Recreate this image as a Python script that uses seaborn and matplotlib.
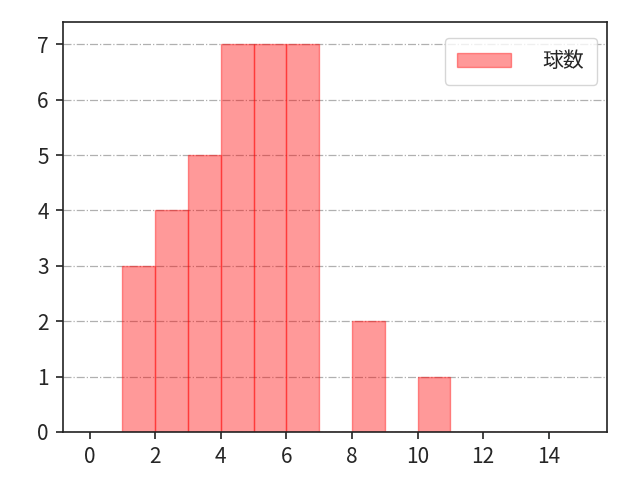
import matplotlib
matplotlib.use("Agg")
import matplotlib.pyplot as plt
import seaborn as sns
import numpy as np
import pandas as pd

# pitch-count bins (left edge) and how many times each occurred
pitch_values = [1, 2, 3, 4, 5, 6, 8, 10]
pitch_counts = [3, 4, 5, 7, 7, 7, 2, 1]
bin_edges = list(range(0, 16))
x_ticks = [0, 2, 4, 6, 8, 10, 12, 14]

sns.set_style("white")
plt.rcParams['font.family'] = ['Noto Sans CJK JP', 'DejaVu Sans']

df = pd.DataFrame({"球数": np.repeat(pitch_values, pitch_counts)})

fig, ax = plt.subplots(figsize=(6.4, 4.8), dpi=100)
sns.histplot(data=df, x="球数", bins=bin_edges, color="red", alpha=0.4,
             edgecolor=(1, 0, 0, 0.4), linewidth=1, label="球数", ax=ax)
ax.set_xticks(x_ticks)
ax.set_xlim(-0.82, 15.77)
ax.set_ylim(0, 7.4)
ax.set_xlabel("")
ax.set_ylabel("")
ax.grid(axis="y", linestyle="-.", color="#b0b0b0", linewidth=0.9)
ax.set_axisbelow(True)
for s in ax.spines.values():
    s.set_color("#222222")
    s.set_linewidth(1.2)
    s.set_zorder(5)
ax.tick_params(axis="both", labelsize=15, length=5, width=1.2, pad=5,
               direction="out", left=True, bottom=True, color="#222222")
ax.legend(loc="upper right", bbox_to_anchor=(0.982, 0.962), borderaxespad=0,
          fontsize=15, handlelength=2.6, handletextpad=1.5, borderpad=0.6)
fig.subplots_adjust(left=0.098, right=0.948, top=0.954, bottom=0.1)
fig.savefig("out.png")
